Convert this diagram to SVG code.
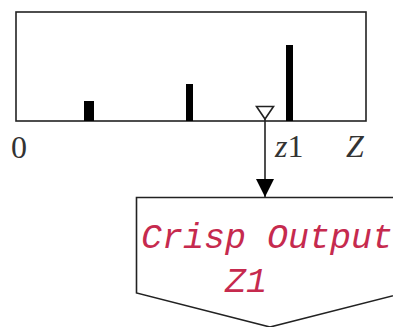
<svg xmlns="http://www.w3.org/2000/svg" width="393" height="327" viewBox="0 0 393 327">
<style>
.ln{fill:none;stroke:#222;stroke-width:1.6}
.bar{fill:#000}
.lab{font-family:"Liberation Serif",serif;font-size:32px;fill:#333}
.out{font-family:"Liberation Mono",monospace;font-style:italic;font-size:35px;fill:#c62a4e}
</style>
<defs>
<marker id="ah" viewBox="0 0 18 18" refX="18" refY="9" markerWidth="18" markerHeight="18" markerUnits="userSpaceOnUse" orient="auto">
<path d="M0,0 L18,9 L0,18 Z" fill="#000"/>
</marker>
</defs>
<g id="chart">
<rect class="ln" x="16" y="12" width="350" height="109" fill="#fff"/>
<rect class="bar" x="84" y="101" width="10" height="20"/>
<rect class="bar" x="186" y="84" width="7" height="37"/>
<rect class="bar" x="286" y="45" width="7" height="76"/>
<path d="M256.5,106.5 L273.5,106.5 L265,119 Z" fill="#fff" stroke="#222" stroke-width="1.6"/>
<text class="lab" x="11" y="158">0</text>
<text class="lab" x="275" y="157"><tspan font-style="italic">z</tspan>1</text>
<text class="lab" x="346" y="157" font-style="italic">Z</text>
</g>
<g id="connectors">
<line class="ln" x1="265" y1="119" x2="265" y2="197" marker-end="url(#ah)"/>
</g>
<g id="output">
<path class="ln" d="M400,197.5 L136.5,197.5 L136.5,293 L270,327 L404,293" fill="#fff"/>
<text class="out" x="141" y="248">Crisp Output</text>
<text class="out" x="225" y="292">Z1</text>
</g>
</svg>
